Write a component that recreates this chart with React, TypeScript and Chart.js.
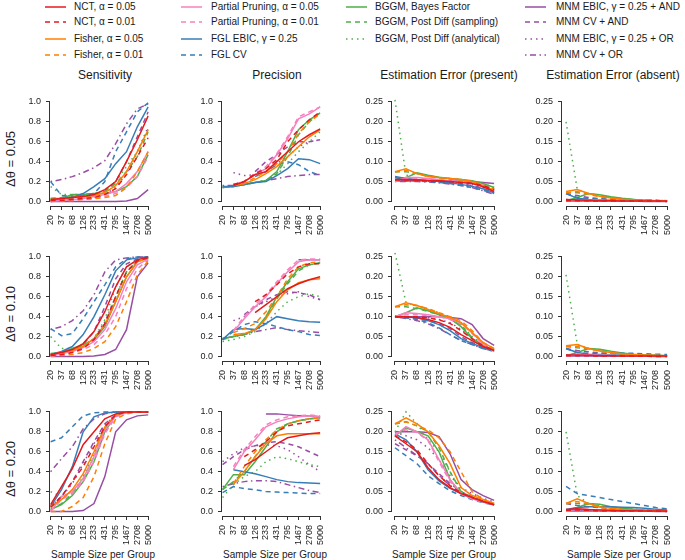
import React, { useEffect, useRef } from "react";
import { Chart, registerables } from "chart.js";
Chart.register(...registerables);

type V = number | null;

const sampleSizes = ["20", "37", "68", "126", "233", "431", "795", "1467", "2708", "5000"];

const methodNames = [
  "NCT, α = 0.05", "NCT, α = 0.01", "Fisher, α = 0.05", "Fisher, α = 0.01",
  "Partial Pruning, α = 0.05", "Partial Pruning, α = 0.01", "FGL EBIC, γ = 0.25", "FGL CV",
  "BGGM, Bayes Factor", "BGGM, Post Diff (sampling)", "BGGM, Post Diff (analytical)",
  "MNM EBIC, γ = 0.25 + AND", "MNM CV + AND", "MNM EBIC, γ = 0.25 + OR", "MNM CV + OR",
];
const methodColors = [
  "#E41A1C", "#E41A1C", "#FF7F00", "#FF7F00", "#F781BF", "#F781BF", "#377EB8", "#377EB8",
  "#4DAF4A", "#4DAF4A", "#4DAF4A", "#984EA3", "#984EA3", "#984EA3", "#984EA3",
];
// 0 solid, 1 dashed, 2 dotted, 3 dash-dot
const methodLty = [0, 1, 0, 1, 0, 1, 0, 1, 0, 1, 2, 0, 1, 2, 3];
const dashPatterns: number[][] = [[], [5, 4], [1.5, 4], [1.5, 3.5, 6, 3.5]];

const colTitles = ["Sensitivity", "Precision", "Estimation Error (present)", "Estimation Error (absent)"];
const rowTitles = ["Δθ = 0.05", "Δθ = 0.10", "Δθ = 0.20"];
const xAxisTitle = "Sample Size per Group";
const rateTicks = [0, 0.2, 0.4, 0.6, 0.8, 1.0];
const errorTicks = [0, 0.05, 0.1, 0.15, 0.2, 0.25];

// order of rows in each table: methodNames order
const sensitivity005: V[][] = [
  [.02, .03, .04, .05, .07, .12, .2, .4, .62, .86],
  [.01, .01, .02, .03, .04, .07, .13, .27, .45, .64],
  [.02, .03, .04, .05, .06, .09, .16, .3, .5, .72],
  [.01, .01, .02, .02, .03, .04, .06, .14, .3, .5],
  [0, .01, .02, .03, .05, .07, .1, .18, .3, .5],
  [0, .005, .01, .02, .03, .05, .08, .14, .25, .45],
  [.01, .02, .04, .08, .15, .23, .38, .5, .75, .95],
  [.2, .06, .05, .06, .08, .2, .5, .7, .9, .99],
  [.03, .03, .07, .07, .08, .08, .1, .15, .25, .47],
  [.03, .04, .06, .07, .08, .1, .18, .3, .45, .7],
  [.15, .07, .07, .07, .08, .1, .2, .35, .5, .73],
  [0, 0, 0, 0, 0, 0, 0, .005, .03, .12],
  [.01, .02, .03, .04, .06, .1, .2, .4, .65, .9],
  [0, .01, .02, .03, .04, .07, .14, .28, .5, .75],
  [.2, .22, .25, .29, .34, .41, .58, .78, .93, .98],
];
const precision005: V[][] = [
  [null, .16, .2, .27, .3, .4, .5, .6, .67, .73],
  [null, .17, .2, .28, .33, .42, .6, .72, .82, .9],
  [null, .16, .18, .22, .28, .35, .45, .55, .65, .72],
  [null, .16, .18, .24, .3, .38, .5, .68, .8, .88],
  [null, .17, .2, .27, .33, .47, .63, .83, .88, .95],
  [null, .17, .2, .28, .35, .48, .65, .85, .9, .95],
  [.15, .15, .17, .19, .2, .26, .33, .43, .42, .38],
  [null, null, null, .25, .3, .37, .4, .37, .3, .26],
  [.14, .15, .17, .19, .21, .3, .5, .72, .82, .89],
  [.14, .15, .17, .19, .21, .28, .45, .67, .8, .89],
  [.14, .15, .17, .19, .21, .27, .38, .5, .6, .7],
  [null, null, null, null, null, null, null, null, null, null],
  [null, null, null, .3, .4, .47, .55, .6, .6, .62],
  [null, .29, .26, .27, .3, .38, .45, .55, .6, .62],
  [.16, .16, .17, .19, .21, .23, .25, .26, .27, .27],
];
const errorPresent005: V[][] = [
  [.055, .055, .054, .053, .052, .05, .048, .045, .037, .025],
  [.054, .054, .053, .052, .051, .05, .048, .046, .04, .03],
  [.075, .082, .07, .063, .06, .058, .055, .05, .04, .028],
  [.074, .078, .07, .063, .06, .057, .054, .05, .042, .03],
  [.05, .06, .06, .058, .055, .052, .05, .047, .04, .028],
  [.05, .058, .058, .056, .054, .052, .05, .047, .041, .03],
  [.063, .058, .055, .053, .05, .047, .043, .038, .032, .022],
  [.06, .055, .052, .05, .048, .045, .04, .035, .028, .02],
  [.055, .06, .072, .066, .061, .058, .055, .052, .045, .035],
  [.075, .075, .07, .065, .06, .057, .054, .05, .042, .032],
  [.255, .065, .07, .065, .06, .057, .053, .05, .045, .035],
  [.052, .052, .052, .052, .052, .052, .051, .05, .048, .045],
  [.052, .052, .052, .051, .05, .048, .045, .04, .032, .022],
  [.052, .052, .052, .051, .05, .048, .046, .042, .035, .025],
  [.05, .05, .05, .049, .047, .044, .04, .035, .027, .018],
];
const errorAbsent005: V[][] = [
  [.005, .004, .003, .002, .002, .001, .001, .001, .001, .001],
  [.002, .002, .002, .001, .001, .001, .001, .001, .001, 0],
  [.025, .03, .02, .013, .009, .006, .004, .003, .002, .001],
  [.022, .025, .018, .012, .008, .005, .004, .003, .002, .001],
  [.002, .004, .004, .003, .002, .002, .001, .001, .001, .001],
  [.002, .003, .003, .002, .002, .001, .001, .001, .001, .001],
  [.02, .008, .005, .004, .003, .003, .002, .002, .002, .001],
  [.02, .01, .008, .007, .006, .005, .004, .003, .003, .002],
  [.002, .01, .02, .017, .012, .008, .005, .003, .002, .001],
  [.022, .022, .02, .015, .01, .007, .005, .003, .002, .001],
  [.2, .03, .02, .015, .01, .007, .005, .004, .003, .002],
  [.001, .001, .001, .001, .001, .001, .001, 0, 0, 0],
  [.02, .015, .01, .007, .005, .004, .003, .002, .002, .001],
  [.005, .004, .003, .003, .002, .002, .001, .001, .001, .001],
  [.003, .003, .002, .002, .002, .001, .001, .001, .001, .001],
];

const sensitivity010: V[][] = [
  [.02, .04, .07, .13, .25, .45, .7, .9, .97, 1],
  [.01, .02, .04, .08, .17, .33, .6, .85, .96, .99],
  [.02, .04, .06, .1, .18, .32, .55, .8, .95, .99],
  [.01, .01, .02, .04, .08, .15, .3, .55, .82, .96],
  [.01, .03, .05, .09, .15, .27, .48, .75, .92, .98],
  [0, .02, .04, .07, .12, .22, .4, .68, .88, .97],
  [.02, .05, .1, .22, .4, .62, .86, .97, .99, 1],
  [.28, .21, .23, .38, .55, .72, .9, .98, 1, 1],
  [.03, .04, .08, .12, .17, .3, .55, .8, .95, .99],
  [.02, .04, .07, .11, .17, .32, .6, .85, .96, .99],
  [.2, .08, .08, .11, .18, .37, .7, .9, .97, .99],
  [0, 0, 0, 0, .005, .02, .07, .27, .8, .94],
  [.01, .03, .06, .12, .25, .5, .78, .93, .98, 1],
  [.01, .03, .06, .1, .18, .35, .6, .85, .96, .99],
  [.27, .3, .36, .46, .62, .85, .97, .99, 1, 1],
];
const precision010: V[][] = [
  [null, null, null, .44, .52, .6, .68, .73, .77, .8],
  [null, null, null, .55, .62, .72, .83, .9, .93, .93],
  [null, .22, .23, .27, .38, .55, .67, .74, .77, .78],
  [null, .24, .28, .33, .45, .6, .78, .9, .94, .95],
  [null, .25, .38, .5, .6, .73, .85, .95, .97, .97],
  [null, .26, .4, .52, .62, .75, .87, .97, .98, .98],
  [.17, .27, .28, .27, .33, .4, .38, .36, .35, .345],
  [.17, .25, .32, .35, .33, .3, .27, .25, .22, .21],
  [.18, .2, .22, .27, .4, .6, .75, .88, .92, .94],
  [.17, .2, .22, .27, .38, .58, .73, .86, .92, .94],
  [.15, .17, .2, .25, .33, .45, .55, .6, .63, .6],
  [null, null, null, null, null, null, null, .97, .97, .97],
  [null, null, .42, .5, .57, .62, .65, .64, .62, .57],
  [null, .36, .4, .5, .55, .6, .63, .65, .6, .57],
  [.18, .2, .22, .25, .27, .29, .27, .26, .25, .24],
];
const errorPresent010: V[][] = [
  [.1, .1, .098, .093, .085, .073, .055, .04, .025, .015],
  [.1, .1, .1, .097, .092, .083, .065, .045, .027, .016],
  [.125, .135, .128, .118, .108, .098, .085, .06, .035, .02],
  [.125, .13, .128, .12, .11, .1, .09, .065, .035, .02],
  [.1, .11, .108, .105, .1, .095, .085, .06, .032, .012],
  [.1, .105, .105, .103, .1, .093, .082, .058, .03, .013],
  [.102, .1, .097, .09, .08, .065, .045, .033, .022, .015],
  [.1, .097, .093, .085, .072, .055, .04, .03, .02, .013],
  [.1, .11, .122, .115, .105, .095, .075, .045, .025, .015],
  [.125, .125, .12, .113, .105, .095, .078, .048, .027, .017],
  [.26, .135, .127, .12, .11, .1, .08, .05, .03, .02],
  [.1, .1, .1, .1, .1, .098, .095, .08, .045, .028],
  [.1, .097, .095, .09, .082, .07, .05, .035, .025, .017],
  [.1, .1, .1, .097, .093, .085, .068, .045, .028, .018],
  [.1, .095, .09, .082, .07, .055, .04, .03, .02, .013],
];
const errorAbsent010: V[][] = [
  [.004, .004, .003, .002, .002, .001, .001, .001, .001, .001],
  [.002, .002, .002, .001, .001, .001, .001, .001, 0, 0],
  [.027, .03, .02, .014, .01, .007, .005, .004, .003, .002],
  [.025, .025, .02, .013, .009, .006, .004, .003, .002, .001],
  [.002, .004, .004, .003, .003, .002, .002, .001, .001, .001],
  [.002, .003, .003, .003, .002, .002, .001, .001, .001, .001],
  [.02, .01, .006, .005, .004, .004, .003, .003, .002, .002],
  [.02, .01, .008, .008, .008, .008, .008, .007, .006, .005],
  [.002, .01, .02, .018, .013, .009, .006, .004, .003, .002],
  [.025, .022, .02, .015, .011, .008, .006, .004, .003, .002],
  [.205, .03, .02, .015, .01, .007, .005, .004, .003, .002],
  [.001, .001, .001, .001, .001, .001, .001, .001, 0, 0],
  [.02, .015, .012, .009, .007, .005, .004, .003, .002, .002],
  [.004, .004, .003, .003, .002, .002, .002, .001, .001, .001],
  [.003, .003, .003, .002, .002, .002, .001, .001, .001, .001],
];

const sensitivity020: V[][] = [
  [.07, .25, .43, .67, .8, .93, .98, 1, 1, 1],
  [.04, .15, .3, .45, .65, .85, .97, 1, 1, 1],
  [.05, .12, .22, .38, .6, .85, .97, 1, 1, 1],
  [0, 0, .05, .14, .35, .68, .93, .98, 1, 1],
  [0, .15, .2, .33, .55, .82, .96, .99, 1, 1],
  [0, .12, .18, .3, .5, .78, .95, .99, 1, 1],
  [.05, .22, .45, .8, .95, .99, 1, 1, 1, 1],
  [.7, .74, .85, .96, .99, 1, 1, 1, 1, 1],
  [.02, .07, .16, .3, .5, .8, .97, 1, 1, 1],
  [.02, .08, .18, .33, .55, .83, .97, 1, 1, 1],
  [.2, .15, .18, .35, .58, .85, .97, 1, 1, 1],
  [0, 0, 0, .01, .08, .35, .8, .92, .96, .97],
  [.05, .15, .3, .5, .7, .88, .97, 1, 1, 1],
  [.05, .15, .28, .48, .68, .87, .97, 1, 1, 1],
  [.4, .53, .65, .83, .93, .98, 1, 1, 1, 1],
];
const precision020: V[][] = [
  [null, null, .46, .52, .6, .68, .74, .76, .78, .79],
  [null, null, .55, .62, .7, .8, .86, .88, .9, .92],
  [null, .27, .4, .55, .68, .76, .78, .78, .78, .78],
  [null, .28, .45, .6, .72, .82, .88, .91, .93, .94],
  [null, .42, .6, .72, .85, .9, .93, .95, .96, .95],
  [null, .45, .62, .75, .87, .92, .95, .96, .97, .96],
  [null, .42, .4, .38, .35, .32, .3, .29, .285, .28],
  [.19, .25, .23, .22, .2, .195, .19, .185, .18, .18],
  [.22, .37, .37, .5, .65, .8, .88, .91, .93, .94],
  [.22, .3, .4, .55, .7, .83, .88, .91, .93, .94],
  [.14, .27, .35, .4, .5, .55, .53, .5, .47, .45],
  [null, null, null, null, .98, .98, .97, .96, .96, .95],
  [.47, .55, .62, .66, .69, .7, .68, .65, .6, .55],
  [.5, .58, .64, .66, .67, .66, .62, .55, .47, .4],
  [.25, .28, .3, .31, .31, .3, .27, .24, .21, .19],
];
const errorPresent020: V[][] = [
  [.19, .17, .15, .11, .08, .06, .045, .035, .025, .017],
  [.19, .175, .155, .12, .09, .065, .047, .035, .025, .017],
  [.22, .235, .22, .2, .165, .12, .06, .04, .03, .02],
  [.22, .225, .215, .205, .185, .15, .1, .05, .03, .02],
  [.19, .213, .2, .18, .13, .08, .045, .032, .024, .016],
  [.195, .205, .198, .178, .125, .075, .045, .032, .024, .016],
  [.195, .18, .15, .105, .077, .058, .045, .033, .025, .017],
  [.16, .14, .12, .09, .07, .052, .04, .03, .022, .016],
  [.19, .21, .2, .19, .15, .08, .045, .033, .025, .017],
  [.22, .225, .215, .2, .16, .1, .05, .035, .025, .017],
  [.2, .25, .22, .18, .15, .1, .05, .035, .025, .018],
  [.2, .2, .2, .198, .188, .145, .08, .055, .04, .028],
  [.17, .155, .14, .12, .095, .07, .05, .037, .027, .019],
  [.2, .19, .18, .16, .13, .09, .06, .045, .033, .024],
  [.18, .16, .14, .12, .09, .065, .045, .033, .025, .017],
];
const errorAbsent020: V[][] = [
  [.005, .007, .005, .004, .003, .002, .002, .001, .001, .001],
  [.003, .004, .003, .002, .002, .001, .001, .001, .001, 0],
  [.02, .032, .02, .012, .008, .005, .004, .003, .002, .001],
  [.02, .025, .018, .01, .007, .005, .003, .002, .002, .001],
  [.002, .005, .005, .004, .003, .002, .002, .001, .001, .001],
  [.002, .004, .004, .003, .003, .002, .001, .001, .001, .001],
  [.005, .01, .012, .012, .012, .011, .01, .008, .006, .004],
  [.063, .045, .04, .035, .03, .025, .02, .015, .01, .007],
  [.002, .01, .02, .018, .012, .008, .006, .004, .003, .002],
  [.02, .02, .018, .014, .01, .007, .005, .004, .003, .002],
  [.2, .04, .02, .015, .01, .008, .006, .004, .003, .002],
  [.001, .001, .001, .001, .001, .001, .001, .001, 0, 0],
  [.02, .015, .012, .01, .008, .006, .004, .003, .002, .002],
  [.005, .004, .004, .003, .003, .002, .002, .001, .001, .001],
  [.003, .003, .003, .002, .002, .002, .001, .001, .001, .001],
];

const panelData: V[][][][] = [
  [sensitivity005, precision005, errorPresent005, errorAbsent005],
  [sensitivity010, precision010, errorPresent010, errorAbsent010],
  [sensitivity020, precision020, errorPresent020, errorAbsent020],
];

// layout (pixels)
const colLeft = [50, 222, 392, 562];
const colRight = [161, 333, 507, 680];
const colPad = [0.06, 0.05, 0.27, 0.36];
const rowTop = [93, 248, 403];
const PLOT_H = 113;
const YW = 40, XH = 44, PT = 6, PR = 3;
const FONT = "'Liberation Sans', Arial, Helvetica, sans-serif";
const TEXT = "#1a1a1a";
const TICK_FONT = 9;

const rAxisPlugin = {
  id: "rAxis",
  afterDraw(chart: any) {
    const { ctx, chartArea } = chart;
    const xs = chart.scales.x, ys = chart.scales.y;
    const xt = xs.ticks, yt = ys.ticks;
    ctx.save();
    ctx.strokeStyle = "#333";
    ctx.lineWidth = 1;
    ctx.beginPath();
    const by = Math.round(chartArea.bottom) + 0.5;
    ctx.moveTo(xs.getPixelForValue(xt[0].value), by);
    ctx.lineTo(xs.getPixelForValue(xt[xt.length - 1].value), by);
    const lx = Math.round(chartArea.left) - 0.5;
    ctx.moveTo(lx, ys.getPixelForValue(yt[0].value));
    ctx.lineTo(lx, ys.getPixelForValue(yt[yt.length - 1].value));
    ctx.stroke();
    ctx.restore();
  },
};

function Panel({ row, col }: { row: number; col: number }) {
  const ref = useRef<HTMLCanvasElement>(null);
  const isRate = col < 2;
  const yTicks = isRate ? rateTicks : errorTicks;
  const yMax = yTicks[yTicks.length - 1];
  const yPad = yMax * 0.045;
  const left = colLeft[col], right = colRight[col];
  const top = rowTop[row], bottom = top + PLOT_H;
  const cl = left - YW, ct = top - PT;
  const w = right + PR - cl, h = bottom + XH - ct;
  useEffect(() => {
    const data = panelData[row][col];
    const chart = new Chart(ref.current as HTMLCanvasElement, {
      type: "line",
      data: {
        datasets: data.map((vals, k) => ({
          label: methodNames[k],
          data: vals.map((v, i) => ({ x: i, y: v })),
          borderColor: methodColors[k],
          backgroundColor: methodColors[k],
          borderDash: dashPatterns[methodLty[k]],
          borderWidth: 1.5,
          borderCapStyle: "butt",
          pointRadius: 0,
          tension: 0,
          fill: false,
          spanGaps: false,
        })),
      },
      options: {
        animation: false,
        responsive: false,
        devicePixelRatio: 1,
        layout: { padding: { top: PT, right: PR, left: 0, bottom: 0 } },
        plugins: { legend: { display: false }, tooltip: { enabled: false } },
        scales: {
          x: {
            type: "linear",
            min: -colPad[col],
            max: sampleSizes.length - 1 + colPad[col],
            afterBuildTicks: (s: any) => {
              s.ticks = sampleSizes.map((_, i) => ({ value: i }));
            },
            afterFit: (s: any) => {
              s.height = XH;
            },
            grid: { drawOnChartArea: false, drawTicks: true, tickLength: 4, color: "#333", lineWidth: 1 },
            border: { display: false },
            ticks: {
              autoSkip: false,
              minRotation: 90,
              maxRotation: 90,
              padding: 5,
              color: TEXT,
              font: { family: FONT, size: TICK_FONT },
              callback: (v: any) => sampleSizes[Math.round(Number(v))],
            },
          },
          y: {
            type: "linear",
            min: -yPad,
            max: yMax + yPad,
            afterBuildTicks: (s: any) => {
              s.ticks = yTicks.map((v) => ({ value: v }));
            },
            afterFit: (s: any) => {
              s.width = YW;
            },
            grid: { drawOnChartArea: false, drawTicks: true, tickLength: 4, color: "#333", lineWidth: 1 },
            border: { display: false },
            ticks: {
              padding: 5,
              color: TEXT,
              font: { family: FONT, size: TICK_FONT },
              callback: (v: any) => Number(v).toFixed(isRate ? 1 : 2),
            },
          },
        },
      } as any,
      plugins: [rAxisPlugin],
    });
    return () => chart.destroy();
  }, [row, col]);
  return (
    <canvas
      ref={ref}
      width={w}
      height={h}
      style={{ position: "absolute", left: cl, top: ct, width: w, height: h }}
    />
  );
}

const legendColX = [45, 181, 346, 525];
const legendTextX = [74, 211, 375, 556];
const legendRowY = [6.5, 22, 38.5, 54.5];
const legendLayout = [
  [0, 1, 2, 3],
  [4, 5, 6, 7],
  [8, 9, 10],
  [11, 12, 13, 14],
];

function Legend() {
  const items: React.ReactNode[] = [];
  legendLayout.forEach((idxs, c) => {
    idxs.forEach((k, r) => {
      const y = legendRowY[r];
      items.push(
        <svg
          key={"l" + k}
          width={22}
          height={6}
          style={{ position: "absolute", left: legendColX[c], top: y - 3 }}
        >
          <line
            x1={0}
            y1={3}
            x2={21}
            y2={3}
            stroke={methodColors[k]}
            strokeWidth={1.5}
            strokeDasharray={dashPatterns[methodLty[k]].join(" ") || undefined}
          />
        </svg>
      );
      items.push(
        <div
          key={"t" + k}
          style={{
            position: "absolute",
            left: legendTextX[c],
            top: y,
            transform: "translateY(-50%)",
            whiteSpace: "nowrap",
            fontSize: 10,
            lineHeight: "12px",
            color: TEXT,
          }}
        >
          {methodNames[k]}
        </div>
      );
    });
  });
  return <>{items}</>;
}

const colTitleX = [105, 277, 449, 613];
const colTitleY = 75;
const xTitleX = [103, 275, 444, 619];
const xTitleY = 554;
const rowTitleX = 9.5;
const rowTitleY = [159, 314, 469];

export default function App() {
  const panels: React.ReactNode[] = [];
  for (let r = 0; r < 3; r++) for (let c = 0; c < 4; c++) panels.push(<Panel key={r + "-" + c} row={r} col={c} />);
  return (
    <div
      style={{
        position: "fixed",
        left: 0,
        top: 0,
        width: 685,
        height: 560,
        background: "#fff",
        fontFamily: FONT,
        overflow: "hidden",
      }}
    >
      <Legend />
      {colTitles.map((t, i) => (
        <div
          key={t}
          style={{
            position: "absolute",
            left: colTitleX[i],
            top: colTitleY,
            transform: "translate(-50%, -50%)",
            whiteSpace: "nowrap",
            fontSize: 12,
            color: TEXT,
          }}
        >
          {t}
        </div>
      ))}
      {rowTitles.map((t, i) => (
        <div
          key={t}
          style={{
            position: "absolute",
            left: rowTitleX,
            top: rowTitleY[i],
            transform: "translate(-50%, -50%) rotate(-90deg)",
            whiteSpace: "nowrap",
            fontSize: 13,
            color: TEXT,
          }}
        >
          {t}
        </div>
      ))}
      {xTitleX.map((x, i) => (
        <div
          key={"xt" + i}
          style={{
            position: "absolute",
            left: x,
            top: xTitleY,
            transform: "translate(-50%, -50%)",
            whiteSpace: "nowrap",
            fontSize: 10,
            color: TEXT,
          }}
        >
          {xAxisTitle}
        </div>
      ))}
      {panels}
    </div>
  );
}
